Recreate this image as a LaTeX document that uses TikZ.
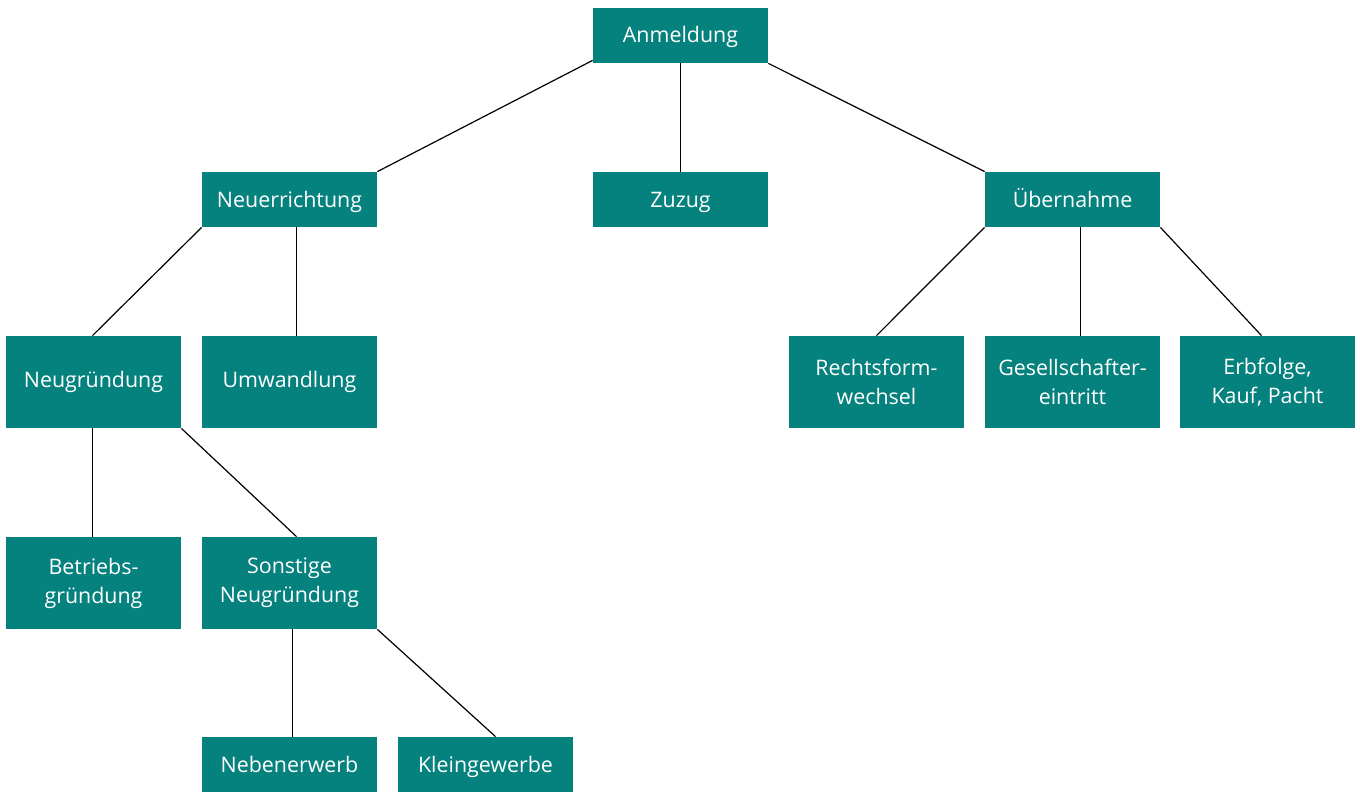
\documentclass[tikz,border=0pt]{standalone}
\usepackage{fontspec}
\setmainfont{Open Sans}
\usetikzlibrary{positioning}
\definecolor{teal}{RGB}{6,130,126}

\begin{document}
\begin{tikzpicture}
    [x=0.5pt,y=-0.5pt,
    every node/.style={font=\fontsize{10.7}{14.5}\selectfont,text=white,align=center},
    tallbox/.style={fill=teal,minimum width=87.5pt,minimum height=46pt,inner sep=0pt},
    box/.style={fill=teal,minimum width=87.5pt,minimum height=27.5pt,inner sep=0pt,text height=10pt,text depth=2.5pt},
    link/.style={draw=black,line width=0.6pt}]

    \useasboundingbox (0,0) rectangle (1360,792);

    % levels
    \node[box] (anm) at (680.5,35.5) {Anmeldung};
    \node[box] (neu) at (289.5,199.5) {Neuerrichtung};
    \node[box] (zuz) at (680.5,199.5) {Zuzug};
    \node[box] (ueb) at (1072.5,199.5) {Übernahme};
    \node[tallbox] (ngr) at (93.5,382) {Neugründung};
    \node[tallbox] (umw) at (289.5,382) {Umwandlung};
    \node[tallbox] (rfw) at (876.5,382) {Rechtsform-\\wechsel};
    \node[tallbox] (gse) at (1072.5,382) {Gesellschafter-\\eintritt};
    \node[tallbox] (erb) at (1267.5,382) {Erbfolge,\\Kauf, Pacht};
    \node[tallbox] (bgr) at (93.5,583) {Betriebs-\\gründung};
    \node[tallbox] (sng) at (289.5,583) {Sonstige\\Neugründung};
    \node[box] (neb) at (289.5,764.5) {Nebenerwerb};
    \node[box] (klg) at (485.5,764.5) {Kleingewerbe};

    % links
    \draw[link] ([yshift=1.5pt]anm.south west) -- (neu.north east);
    \draw[link] (anm.south) -- (zuz.north);
    \draw[link] (anm.south east) -- (ueb.north west);
    \draw[link] (neu.south west) -- ([xshift=-0.5pt]ngr.north);
    \draw[link] ([xshift=3.5pt]neu.south) -- ([xshift=3.5pt]umw.north);
    \draw[link] (ueb.south west) -- (rfw.north);
    \draw[link] ([xshift=4pt]ueb.south) -- ([xshift=4pt]gse.north);
    \draw[link] (ueb.south east) -- ([xshift=-3pt]erb.north);
    \draw[link] ([xshift=-0.5pt]ngr.south) -- ([xshift=-0.5pt]bgr.north);
    \draw[link] (ngr.south east) -- ([xshift=3.5pt]sng.north);
    \draw[link] ([xshift=1.5pt]sng.south) -- ([xshift=1.5pt]neb.north);
    \draw[link] (sng.south east) -- ([xshift=5pt]klg.north);
\end{tikzpicture}
\end{document}
